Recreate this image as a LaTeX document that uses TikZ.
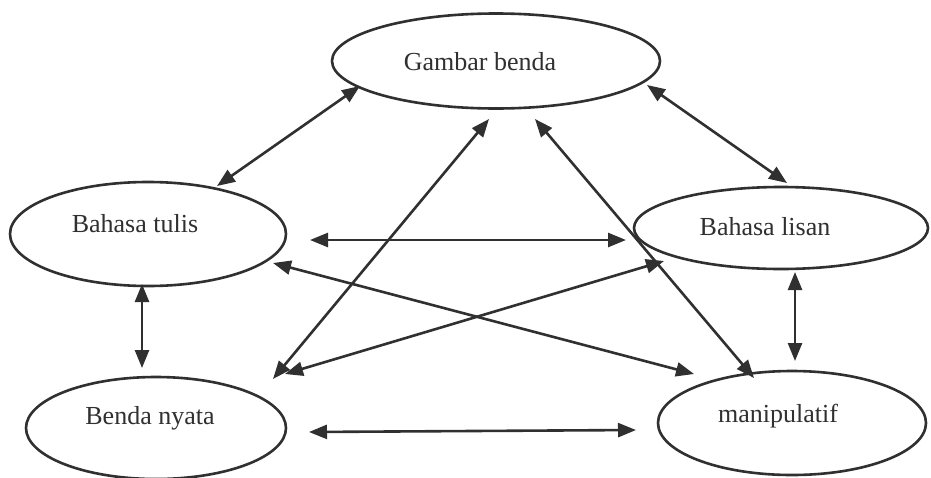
\documentclass[tikz,border=0pt]{standalone}
\usepackage{fontspec}
\setmainfont{Liberation Serif}
\usetikzlibrary{shapes.geometric,arrows.meta}
\begin{document}
\begin{tikzpicture}[x=1pt,y=-1pt,
  ell/.style={draw=ink,line width=2.6pt,ellipse,inner sep=0pt},
  lbl/.style={text=ink,font=\fontsize{26}{28}\selectfont,inner sep=0pt},
  tip/.tip={Triangle[length=18pt,width=14pt]},
  link/.style={draw=ink,line width=2.6pt,tip-tip}]
\definecolor{ink}{HTML}{303030}
\useasboundingbox[fill=white] (0,0) rectangle (931,477);
% ellipses
\node[ell,minimum width=328pt,minimum height=95pt] (gb) at (496,61) {};
\node[ell,minimum width=276pt,minimum height=104pt] (bt) at (148,234) {};
\node[ell,minimum width=294pt,minimum height=82pt] (bl) at (781,228) {};
\node[ell,minimum width=260pt,minimum height=102pt] (bn) at (156,428) {};
\node[ell,minimum width=268pt,minimum height=104pt] (mp) at (792,423) {};
% texts
\node[lbl] (tgb) at (480,62) {Gambar benda};
\node[lbl] (tbt) at (135,224) {Bahasa tulis};
\node[lbl] (tbl) at (765,227) {Bahasa lisan};
\node[lbl] (tbn) at (150,418) {Benda nyata};
\node[lbl] (tmp) at (778,416) {manipulatif};
% arrow end points
\coordinate (a1) at (360,86);  \coordinate (b1) at (217,186);
\coordinate (a2) at (647,85);  \coordinate (b2) at (787,183);
\coordinate (a3) at (142,284); \coordinate (b3) at (142,368);
\coordinate (a4) at (310,240); \coordinate (b4) at (626,240);
\coordinate (a5) at (489,119); \coordinate (b5) at (273,379);
\coordinate (a6) at (535,119); \coordinate (b6) at (754,378);
\coordinate (a7) at (273,263); \coordinate (b7) at (694,374);
\coordinate (a8) at (285,374); \coordinate (b8) at (664,261);
\coordinate (a9) at (309,432); \coordinate (b9) at (636,430);
\coordinate (a10) at (795,272); \coordinate (b10) at (795,361);
% connectors
\draw[link] (a1) -- (b1);
\draw[link] (a2) -- (b2);
\draw[link] (a3) -- (b3);
\draw[link] (a4) -- (b4);
\draw[link] (a5) -- (b5);
\draw[link] (a6) -- (b6);
\draw[link] (a7) -- (b7);
\draw[link] (a8) -- (b8);
\draw[link] (a9) -- (b9);
\draw[link] (a10) -- (b10);
\end{tikzpicture}
\end{document}
